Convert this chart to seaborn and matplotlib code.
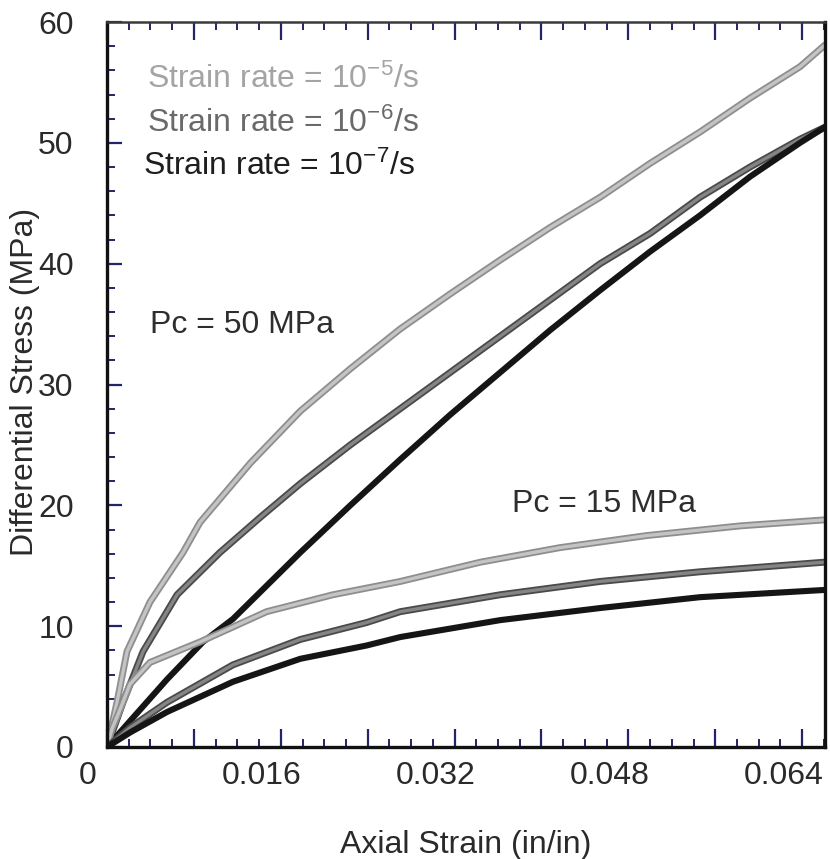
import numpy as np
import pandas as pd
import matplotlib
matplotlib.use("Agg")
import matplotlib.pyplot as plt
import matplotlib.patheffects as pe
from matplotlib.ticker import MultipleLocator
from matplotlib.transforms import ScaledTranslation
import seaborn as sns

# ---- data: axial strain (in/in) vs differential stress (MPa) ----
pc50_e5_strain = [0, 0.00092, 0.00184, 0.00396, 0.0070, 0.00857, 0.0132, 0.0178, 0.0224,
                  0.0270, 0.0316, 0.0362, 0.0408, 0.0454, 0.0500, 0.0546, 0.0592, 0.0638, 0.0661]
pc50_e5_stress = [0, 3.7, 7.9, 12.0, 16.1, 18.6, 23.5, 27.8, 31.3,
                  34.6, 37.5, 40.3, 43.0, 45.5, 48.3, 50.9, 53.7, 56.3, 58.1]

pc50_e6_strain = [0, 0.00147, 0.00332, 0.00645, 0.0104, 0.0141, 0.0178, 0.0224, 0.0270,
                  0.0316, 0.0362, 0.0408, 0.0454, 0.0500, 0.0546, 0.0592, 0.0638, 0.0661]
pc50_e6_stress = [0, 3.7, 7.9, 12.6, 16.1, 19.0, 21.8, 25.0, 28.0,
                  31.0, 34.0, 37.0, 40.0, 42.5, 45.5, 48.0, 50.3, 51.3]

pc50_e7_strain = [0, 0.00553, 0.00884, 0.0116, 0.0178, 0.0224, 0.0270, 0.0316, 0.0362,
                  0.0408, 0.0454, 0.0500, 0.0546, 0.0592, 0.0638, 0.0661]
pc50_e7_stress = [0, 5.6, 8.7, 10.6, 16.1, 20.0, 23.8, 27.5, 31.0,
                  34.5, 37.8, 41.0, 44.0, 47.2, 50.0, 51.3]

pc15_e5_strain = [0, 0.00046, 0.0012, 0.00212, 0.00396, 0.00857, 0.0147, 0.0208, 0.0270,
                  0.0344, 0.0417, 0.0497, 0.0583, 0.0661]
pc15_e5_stress = [0, 1.5, 3.1, 5.2, 7.0, 8.7, 11.2, 12.6, 13.7,
                  15.3, 16.5, 17.5, 18.3, 18.8]

pc15_e6_strain = [0, 0.00212, 0.00553, 0.0116, 0.0178, 0.0239, 0.0270, 0.0362, 0.0454,
                  0.0546, 0.0661]
pc15_e6_stress = [0, 1.6, 3.7, 6.8, 8.9, 10.3, 11.2, 12.6, 13.7, 14.5, 15.3]

pc15_e7_strain = [0, 0.00212, 0.00553, 0.0116, 0.0178, 0.0239, 0.0270, 0.0362, 0.0454,
                  0.0546, 0.0661]
pc15_e7_stress = [0, 1.2, 2.9, 5.4, 7.3, 8.4, 9.1, 10.5, 11.5, 12.4, 13.0]

curve_names = ["Pc50 1e-5", "Pc50 1e-6", "Pc50 1e-7", "Pc15 1e-5", "Pc15 1e-6", "Pc15 1e-7"]
curve_strain = [pc50_e5_strain, pc50_e6_strain, pc50_e7_strain,
                pc15_e5_strain, pc15_e6_strain, pc15_e7_strain]
curve_stress = [pc50_e5_stress, pc50_e6_stress, pc50_e7_stress,
                pc15_e5_stress, pc15_e6_stress, pc15_e7_stress]

x_ticks = [0, 0.008, 0.016, 0.024, 0.032, 0.040, 0.048, 0.056, 0.064]
x_labels = ["0", "", "0.016", "", "0.032", "", "0.048", "", "0.064"]
y_ticks = [0, 10, 20, 30, 40, 50, 60]

rate_labels = [r"Strain rate = 10$^{-5}$/s", r"Strain rate = 10$^{-6}$/s", r"Strain rate = 10$^{-7}$/s"]

frames = []
for name, xs, ys in zip(curve_names, curve_strain, curve_stress):
    frames.append(pd.DataFrame({"strain": xs, "stress": ys, "curve": name}))
df = pd.concat(frames, ignore_index=True)

# ---- styling ----
sns.set_theme(style="white")
plt.rcParams["font.family"] = ["Liberation Sans", "DejaVu Sans"]
plt.rcParams["mathtext.fontset"] = "custom"
plt.rcParams["mathtext.rm"] = "Liberation Sans"
plt.rcParams["mathtext.it"] = "Liberation Sans:italic"
plt.rcParams["mathtext.bf"] = "Liberation Sans:bold"

light_in, light_out = "#c4c4c4", "#8e8e8e"
mid_in, mid_out = "#858585", "#4a4a4a"
dark = "#151515"
inner_colors = [light_in, mid_in, dark, light_in, mid_in, dark]
outer_colors = [light_out, mid_out, dark, light_out, mid_out, dark]

fig = plt.figure(figsize=(8.30, 8.59), dpi=100)
ax = fig.add_axes([107 / 830, 1 - 747 / 859, 718 / 830, 725 / 859])

sns.lineplot(data=df, x="strain", y="stress", hue="curve", hue_order=curve_names,
             palette=dict(zip(curve_names, inner_colors)), estimator=None, sort=False,
             linewidth=2.4, legend=False, ax=ax)

for line, oc, ic in zip(ax.get_lines(), outer_colors, inner_colors):
    if oc == ic:
        line.set_linewidth(4.4)
    else:
        line.set_path_effects([pe.Stroke(linewidth=5.0, foreground=oc), pe.Normal()])
    line.set_solid_capstyle("round")
    line.set_solid_joinstyle("round")

ax.set_xlim(0, 0.0661)
ax.set_ylim(0, 60)

ax.set_xticks(x_ticks)
ax.set_xticklabels(x_labels)
ax.xaxis.set_minor_locator(MultipleLocator(0.002))
ax.set_yticks(y_ticks)
ax.yaxis.set_minor_locator(MultipleLocator(2))

tick_col = "#24246a"
ax.tick_params(axis="x", which="major", direction="in", length=13, width=1.6,
               color=tick_col, top=True, bottom=True, labelsize=23, pad=10,
               labelcolor="#2a2a2a")
ax.tick_params(axis="x", which="minor", direction="in", length=6, width=1.4,
               color=tick_col, top=True, bottom=True)
ax.tick_params(axis="y", which="major", direction="in", length=11, width=1.6,
               color=tick_col, left=True, right=False, labelsize=23, pad=24,
               labelcolor="#2a2a2a")
ax.tick_params(axis="y", which="minor", direction="in", length=6, width=1.4,
               color=tick_col, left=True, right=False)

for side in ["left", "bottom", "right"]:
    ax.spines[side].set_linewidth(2.4)
    ax.spines[side].set_color("#111111")
ax.spines["top"].set_linewidth(1.8)
ax.spines["top"].set_color("#3a3a3a")

ax.set_xlabel("Axial Strain (in/in)", fontsize=23, color="#2a2a2a")
ax.set_ylabel("Differential Stress (MPa)", fontsize=23, color="#2a2a2a")
ax.xaxis.set_label_coords(0.5, (747 - 830) / 725)
ax.yaxis.set_label_coords((40 - 107) / 718, 0.503)

def frac(px, py):
    return (px - 107) / 718, (747 - py) / 725

for (px, py), txt, col in zip([(147, 88), (147, 132), (143, 175)], rate_labels,
                              ["#a4a4a4", "#6a6a6a", "#1e1e1e"]):
    fx, fy = frac(px, py)
    ax.text(fx, fy, txt, transform=ax.transAxes, fontsize=23, color=col,
            ha="left", va="baseline")

for (px, py), txt in zip([(150, 333), (512, 512)], ["Pc = 50 MPa", "Pc = 15 MPa"]):
    fx, fy = frac(px, py)
    ax.text(fx, fy, txt, transform=ax.transAxes, fontsize=23, color="#2e2e2e",
            ha="left", va="baseline")

# x tick labels sit a little to the left of their ticks
fig.canvas.draw()
shift = ScaledTranslation(-19 / 100, 0, fig.dpi_scale_trans)
for lab in ax.get_xticklabels():
    lab.set_transform(lab.get_transform() + shift)

fig.savefig("out.png", dpi=100)
